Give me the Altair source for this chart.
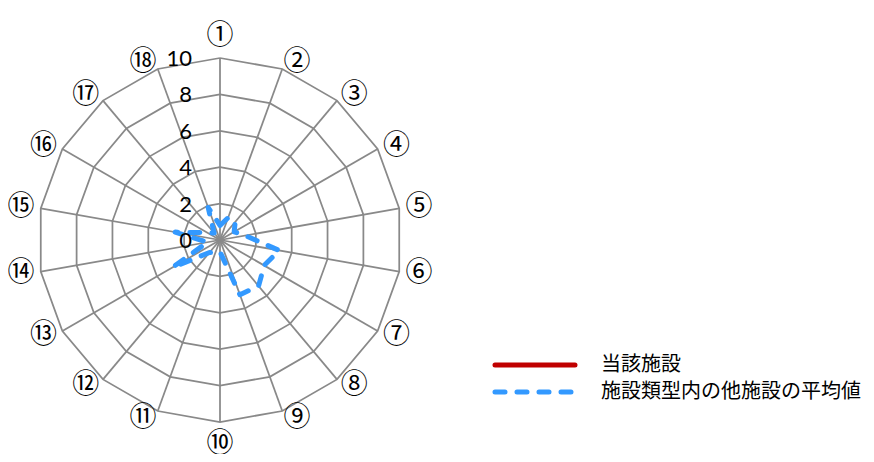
import altair as alt
import pandas as pd

# ---- data ----
axis_labels = ["①", "②", "③", "④", "⑤", "⑥", "⑦", "⑧", "⑨",
               "⑩", "⑪", "⑫", "⑬", "⑭", "⑮", "⑯", "⑰", "⑱"]
series_names = ["当該施設", "施設類型内の他施設の平均値"]
own_values = [None] * 18  # 当該施設: no values plotted
avg_values = [0.8, 1.3, 1.3, 0.9, 1.4, 3.3, 2.8, 3.3, 3.2,
              0.65, 0.7, 0.9, 3.0, 0.7, 2.5, 0.8, 0.5, 1.9]
grid_levels = [2, 4, 6, 8, 10]
tick_labels = ["0", "2", "4", "6", "8", "10"]

# ---- layout constants ----
N = len(axis_labels)
PX = 18.2            # pixels per unit
W, H = 858, 446
CX, CY = 212, 232    # centre of radar in view pixels
GRAY = "#898989"
COLORS = ["#C00000", "#3399FF"]
DASHES = [[1, 0], [10, 12]]
CJK = "Noto Sans CJK JP"

xs = alt.Scale(domain=[-CX / PX, (W - CX) / PX], nice=False, zero=False)
ys = alt.Scale(domain=[-(H - CY) / PX, CY / PX], nice=False, zero=False)


def polar(base, rfield):
    return base.transform_calculate(
        ang=f"datum.idx * 2 * PI / {N}"
    ).transform_calculate(
        px=f"datum.{rfield} * sin(datum.ang)",
        py=f"datum.{rfield} * cos(datum.ang)",
        cx="0",
        cy="0",
    )


# series table
rows = []
for name, vals in zip(series_names, [own_values, avg_values]):
    for i in range(N + 1):
        v = vals[i % N]
        if v is not None:
            rows.append({"series": name, "idx": i, "value": v})
series_df = pd.DataFrame(rows)

R_MAX = max(grid_levels)
grid_df = pd.DataFrame([{"level": lv, "idx": i, "r": lv}
                        for lv in grid_levels for i in range(N + 1)])
spoke_df = pd.DataFrame([{"idx": i, "r": R_MAX} for i in range(N)])
label_df = pd.DataFrame([{"idx": i, "label": lab, "r": R_MAX}
                         for i, lab in enumerate(axis_labels)])
tick_df = pd.DataFrame({"label": tick_labels})

X = lambda f: alt.X(f"{f}:Q", scale=xs, axis=None)
Y = lambda f: alt.Y(f"{f}:Q", scale=ys, axis=None)

grid = polar(alt.Chart(grid_df), "r").mark_line(
    color=GRAY, strokeWidth=1.75
).encode(x=X("px"), y=Y("py"), detail="level:N", order="idx:Q")

spokes = polar(alt.Chart(spoke_df), "r").mark_rule(
    color=GRAY, strokeWidth=1.75
).encode(x=X("cx"), y=Y("cy"), x2="px:Q", y2="py:Q")

lines = polar(alt.Chart(series_df), "value").mark_line(
    strokeWidth=5, strokeCap="round", strokeJoin="round"
).encode(
    x=X("px"), y=Y("py"), order="idx:Q",
    color=alt.Color("series:N", scale=alt.Scale(domain=series_names, range=COLORS), legend=None),
    strokeDash=alt.StrokeDash("series:N", scale=alt.Scale(domain=series_names, range=DASHES), legend=None),
)

# category labels: placed just outside the outer ring, Excel-style offsets
axis_text = polar(alt.Chart(label_df), "r").transform_calculate(
    s="sin(datum.ang)", c="cos(datum.ang)"
).transform_calculate(
    lx=f"datum.px + (abs(datum.s) < 0.01 ? 0 : (datum.s > 0 ? 1 : -1) * (12 + 8 * abs(datum.s))) / {PX}",
    ly=f"datum.py + datum.c * (abs(datum.s) < 0.01 ? 22 : 7) / {PX}",
).mark_text(
    font=CJK, fontSize=27, color="#000000", align="center", baseline="middle"
).encode(x=X("lx"), y=Y("ly"), text="label:N")

ticks = alt.Chart(tick_df).transform_calculate(
    v="toNumber(datum.label)", z="0"
).mark_text(
    font="Lato", fontSize=22, color="#000000", align="right", baseline="middle", dx=-28, dy=1
).encode(x=X("z"), y=Y("v"), text="label:N")

# manual legend
legend_layers = []
for k, name in enumerate(series_names):
    ly = 357 + 27 * k
    legend_layers.append(
        alt.Chart(pd.DataFrame({"series": [name]})).mark_rule(
            color=COLORS[k], strokeWidth=5, strokeDash=DASHES[k], strokeCap="round"
        ).encode(x=alt.value(487), x2=alt.value(567), y=alt.value(ly))
    )
    legend_layers.append(
        alt.Chart(pd.DataFrame({"series": [name]})).mark_text(
            font=CJK, fontSize=20, color="#000000", align="left", baseline="middle"
        ).encode(x=alt.value(593), y=alt.value(ly), text="series:N")
    )

chart = alt.layer(grid, spokes, lines, axis_text, ticks, *legend_layers).properties(
    width=W, height=H, padding=0, autosize="none"
).configure_view(stroke=None)

chart.save("out.html", embed_options={"renderer": "svg", "actions": False})
